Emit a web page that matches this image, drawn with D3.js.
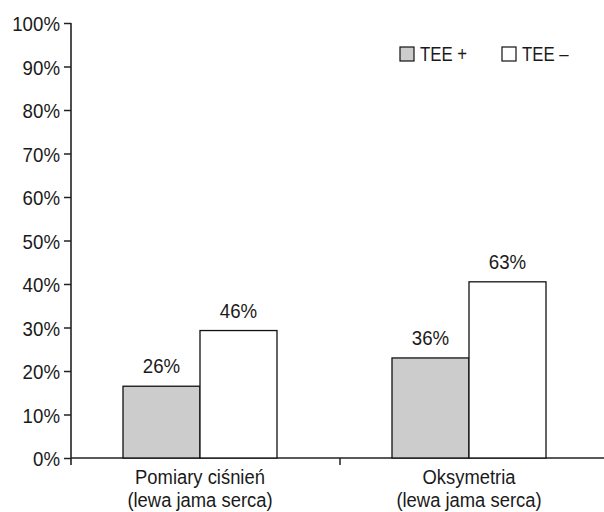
<!DOCTYPE html>
<html lang="pl">
<head>
    <meta charset="UTF-8">
    <title>TEE</title>
    <script src="https://cdn.jsdelivr.net/npm/d3@7"></script>
    <style>
        body { margin: 0; background: #fff; }
        text { font-family: "Liberation Sans", Arial, sans-serif; fill: #1a1a1a; }
    </style>
</head>
<body>
<script type="text/javascript">
    var categories = ["Pomiary ciśnień", "Oksymetria"];
    var subLabels = ["(lewa jama serca)", "(lewa jama serca)"];
    var series = ["TEE +", "TEE –"];
    var colors = ["#cccccc", "#ffffff"];
    // bar heights as drawn (the printed labels differ from the drawn heights)
    var teePlus = [16.5, 23.0];
    var teeMinus = [29.3, 40.5];
    var teePlusLabels = ["26%", "36%"];
    var teeMinusLabels = ["46%", "63%"];
    var yTicks = [0, 10, 20, 30, 40, 50, 60, 70, 80, 90, 100];

    var width = 604;
    var height = 512;
    var svg = d3.select('body').append('svg')
            .attr('width', width)
            .attr('height', height);

    var padLeft = 71, padRight = 609, padTop = 23, baseY = 458;

    // squeeze text horizontally to look like a condensed face
    function condense(sel, k) {
        sel.each(function () {
            var len = this.getComputedTextLength();
            d3.select(this).attr('textLength', len * k).attr('lengthAdjust', 'spacingAndGlyphs');
        });
    }

    var y = d3.scaleLinear().domain([0, 100]).range([baseY, padTop]);
    var x0 = d3.scaleBand().domain(categories).range([padLeft, padRight]);
    var x1 = d3.scaleBand().domain(series).range([52, 206]);

    var rows = categories.map(function (c, i) {
        return {cat: c, sub: subLabels[i],
            vals: [teePlus[i], teeMinus[i]],
            labels: [teePlusLabels[i], teeMinusLabels[i]]};
    });

    // y axis
    var yAxis = svg.append('g')
            .attr('transform', 'translate(' + padLeft + ',0)')
            .call(d3.axisLeft(y).tickValues(yTicks).tickSize(7).tickSizeOuter(0)
                    .tickFormat(function (d) { return d + '%'; }));
    yAxis.select('.domain').remove();
    yAxis.attr('font-family', null);
    yAxis.selectAll('line').attr('stroke', '#222').attr('stroke-width', 1.5);
    yAxis.selectAll('text')
            .attr('x', -11)
            .attr('dy', '0.38em')
            .attr('fill', null)
            .style('font-size', '21px')
            .call(condense, 0.89);
    svg.append('line')
            .attr('x1', padLeft).attr('x2', padLeft)
            .attr('y1', padTop).attr('y2', baseY + 7)
            .attr('stroke', '#222').attr('stroke-width', 1.6);

    // x axis
    svg.append('line')
            .attr('x1', padLeft).attr('x2', width)
            .attr('y1', baseY).attr('y2', baseY)
            .attr('stroke', '#222').attr('stroke-width', 1.6);
    svg.append('line')
            .attr('x1', x0(categories[1])).attr('x2', x0(categories[1]))
            .attr('y1', baseY).attr('y2', baseY + 7)
            .attr('stroke', '#222').attr('stroke-width', 1.5);

    var groups = svg.selectAll('g.grp')
            .data(rows)
            .enter()
            .append('g')
            .attr('class', 'grp')
            .attr('transform', function (d) { return 'translate(' + x0(d.cat) + ',0)'; });

    groups.selectAll('rect')
            .data(function (d) { return d.vals; })
            .enter()
            .append('rect')
            .attr('x', function (d, i) { return x1(series[i]); })
            .attr('y', function (d) { return y(d); })
            .attr('width', x1.bandwidth())
            .attr('height', function (d) { return y(0) - y(d); })
            .attr('fill', function (d, i) { return colors[i]; })
            .attr('stroke', '#111')
            .attr('stroke-width', 1.3);

    groups.selectAll('text.val')
            .data(function (d) { return d.vals.map(function (v, i) { return [v, d.labels[i]]; }); })
            .enter()
            .append('text')
            .attr('class', 'val')
            .attr('x', function (d, i) { return x1(series[i]) + x1.bandwidth() / 2; })
            .attr('y', function (d) { return y(d[0]) - 13; })
            .attr('text-anchor', 'middle')
            .style('font-size', '21px')
            .text(function (d) { return d[1]; })
            .call(condense, 0.89);

    var mid = x1.range()[0] + (x1.range()[1] - x1.range()[0]) / 2;
    groups.append('text')
            .attr('x', mid)
            .attr('y', 484)
            .attr('text-anchor', 'middle')
            .style('font-size', '20px')
            .text(function (d) { return d.cat; })
            .call(condense, 0.92);
    groups.append('text')
            .attr('x', mid)
            .attr('y', 507)
            .attr('text-anchor', 'middle')
            .style('font-size', '20px')
            .text(function (d) { return d.sub; })
            .call(condense, 0.92);

    // legend
    var legendX = [400, 502];
    var legend = svg.selectAll('g.leg')
            .data(series)
            .enter()
            .append('g')
            .attr('class', 'leg')
            .attr('transform', function (d, i) { return 'translate(' + legendX[i] + ',47)'; });
    legend.append('rect')
            .attr('width', 14).attr('height', 14)
            .attr('fill', function (d, i) { return colors[i]; })
            .attr('stroke', '#111').attr('stroke-width', 1.2);
    legend.append('text')
            .attr('x', 20)
            .attr('y', 14)
            .style('font-size', '20px')
            .text(function (d) { return d; })
            .call(condense, 0.84);
</script>
</body>
</html>
